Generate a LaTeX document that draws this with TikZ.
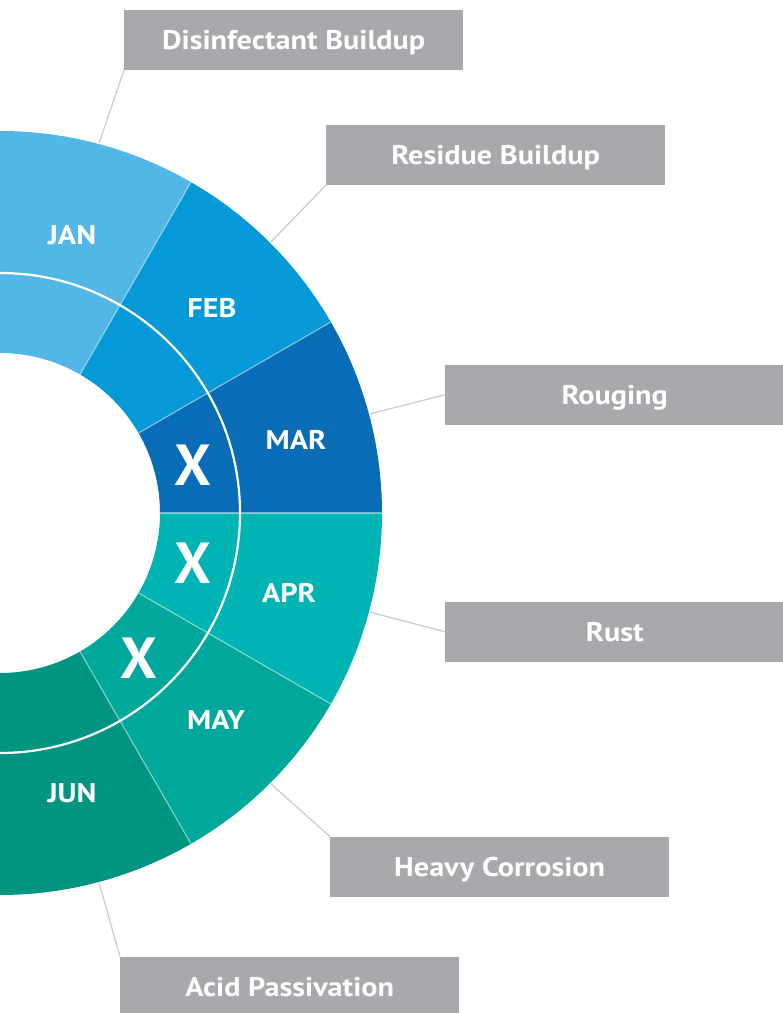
\documentclass[tikz,border=0pt]{standalone}
\usepackage{fontspec}
\setmainfont{PT Sans}[FakeStretch=1.12]
\newfontfamily\crossfont{PT Sans}
\definecolor{cJan}{HTML}{52B6E7}
\definecolor{cFeb}{HTML}{0599D8}
\definecolor{cMar}{HTML}{086CB7}
\definecolor{cApr}{HTML}{00B4B3}
\definecolor{cMay}{HTML}{00A89B}
\definecolor{cJun}{HTML}{009581}
\definecolor{boxgray}{HTML}{A7A9AC}
\definecolor{leadgray}{HTML}{CDCDCD}
\begin{document}
\begin{tikzpicture}[x=1pt,y=1pt,
 labelbox/.style={fill=boxgray, text=white, font=\bfseries\fontsize{27}{30}\selectfont, text height=19pt, text depth=0pt, minimum height=60pt, minimum width=339pt, inner sep=0pt, anchor=south west},
 month/.style={text=white, font=\bfseries\fontsize{27}{30}\selectfont, text height=19pt, text depth=0pt, inner sep=0pt},
 cross/.style={text=white, font=\crossfont\bfseries\fontsize{58}{60}\selectfont, text height=41pt, text depth=0pt, inner sep=0pt},
 leader/.style={draw=leadgray, line width=1.3pt},
 sep/.style={draw=white, draw opacity=0.45, line width=1.2pt}]
\useasboundingbox (0,0) rectangle (783,1013);
\coordinate (O) at (0,500);
\begin{scope}[shift={(O)}]
 \foreach \a/\b/\c in {90/60/cJan, 60/30/cFeb, 30/0/cMar, 0/-30/cApr, -30/-60/cMay, -60/-90/cJun} {
   \fill[\c] (\a:160pt) arc[start angle=\a, end angle=\b, radius=160pt] -- (\b:382pt) arc[start angle=\b, end angle=\a, radius=382pt] -- cycle;
 }
 \foreach \a in {60,30,0,-30,-60} { \draw[sep] (\a:160pt) -- (\a:382pt); }
 \draw[white, line width=2.2pt] (90:240pt) arc[start angle=90, end angle=-90, radius=240pt];
 \coordinate (pJan) at (75:383pt);
 \coordinate (pFeb) at (45:383pt);
 \coordinate (pMar) at (15:383pt);
 \coordinate (pApr) at (-15:383pt);
 \coordinate (pMay) at (-45:383pt);
 \coordinate (pJun) at (-75:383pt);
\end{scope}
\node[month] (tJan) at (72,778) {JAN};
\node[month] (tFeb) at (212,705) {FEB};
\node[month] (tMar) at (296,573) {MAR};
\node[month] (tApr) at (289,420) {APR};
\node[month] (tMay) at (216,293) {MAY};
\node[month] (tJun) at (72,220) {JUN};
\node[cross] (x1) at (193,548) {X};
\node[cross] (x2) at (193,450) {X};
\node[cross] (x3) at (139,355) {X};
\node[labelbox] (bDis) at (124,943) {Disinfectant Buildup};
\node[labelbox] (bRes) at (326,828) {Residue Buildup};
\node[labelbox] (bRou) at (445,588) {Rouging};
\node[labelbox] (bRust) at (445,351) {Rust};
\node[labelbox] (bHeavy) at (330,116) {Heavy Corrosion};
\node[labelbox] (bAcid) at (120,-4) {Acid Passivation};
\draw[leader] (pJan) -- (bDis.south west);
\draw[leader] (pFeb) -- (bRes.south west);
\draw[leader] (pMar) -- (bRou.west);
\draw[leader] (pApr) -- (bRust.west);
\draw[leader] (pMay) -- (bHeavy.north west);
\draw[leader] (pJun) -- (bAcid.north west);
\end{tikzpicture}
\end{document}
